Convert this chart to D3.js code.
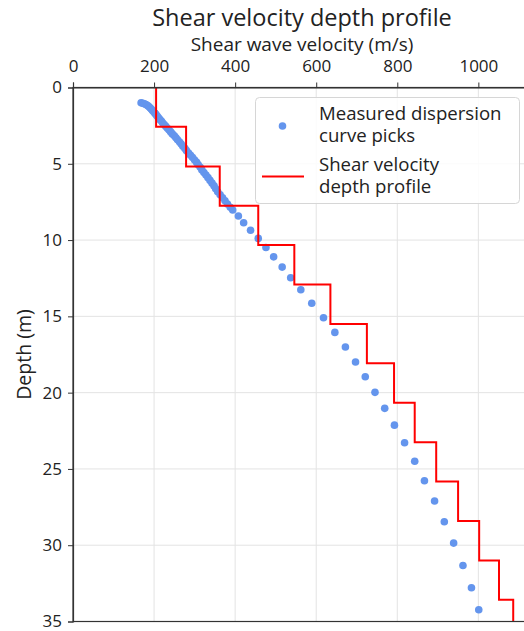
<!DOCTYPE html>
<html>
<head>
<meta charset="utf-8">
<script src="https://cdn.jsdelivr.net/npm/d3@7"></script>
<style>
html,body{margin:0;padding:0;background:#fff;}
svg{display:block;}
text{font-family:"Open Sans","Noto Sans",sans-serif;fill:#222;}
</style>
</head>
<body>
<div id="chart"></div>
<script>
// Measured dispersion curve picks: velocity (m/s) and depth (m)
const pickVelocity = [168,172,176,180,184,187,190,193,196,199,202,205,208,211,214,218,221,225,229,233,237,241,245,250,254,258,263,267,271,276,280,285,290,295,300,305,309,314,318,323,328,333,338,343,348,352,357,363,369,375,381,388,
394,408,421,438,457,476,495,516,537,562,589,618,646,672,697,721,745,769,793,818,843,867,892,916,939,962,983,1001];
const pickDepth = [1.00,1.03,1.07,1.12,1.18,1.25,1.33,1.41,1.50,1.59,1.68,1.78,1.88,1.98,2.09,2.20,2.31,2.43,2.55,2.67,2.79,2.91,3.04,3.17,3.30,3.43,3.57,3.71,3.85,3.99,4.14,4.29,4.44,4.59,4.75,4.91,5.07,5.23,5.40,5.57,5.74,5.91,6.09,6.27,6.45,6.64,6.83,7.03,7.23,7.43,7.64,7.85,
8.03,8.42,8.86,9.36,9.89,10.49,11.10,11.77,12.47,13.26,14.14,15.09,16.05,17.01,17.99,18.96,19.98,21.03,22.13,23.28,24.50,25.77,27.10,28.46,29.86,31.33,32.79,34.23];

// Layered shear velocity profile: layer top depths and velocities
const layerTop = [0,2.58,5.17,7.75,10.33,12.92,15.50,18.08,20.67,23.25,25.83,28.42,31.00,33.58];
const layerVs = [205,279,362,457,546,635,725,792,843,896,950,1002,1051,1086];
const profileBottom = 40;

const xTicks = [0,200,400,600,800,1000];
const yTicks = [0,5,10,15,20,25,30,35];

const W = 524, H = 631;
const m = {left:73, top:87.5, right:-3, bottom:9.5};
const FONT = '"Open Sans","Noto Sans",sans-serif';

const svg = d3.select("#chart").append("svg").attr("width",W).attr("height",H);

const x = d3.scaleLinear().domain([0,1120]).range([m.left, W - m.right]);
const y = d3.scaleLinear().domain([0,35]).range([m.top, H - m.bottom]);

svg.append("defs").append("clipPath").attr("id","clip").append("rect")
  .attr("x", m.left).attr("y", m.top)
  .attr("width", W - m.right - m.left).attr("height", H - m.bottom - m.top);

// grid
const grid = svg.append("g");
grid.selectAll("line.vx").data(xTicks.filter(d=>d>0)).join("line")
  .attr("x1",d=>x(d)).attr("x2",d=>x(d)).attr("y1",y(0)).attr("y2",y(35))
  .attr("stroke","#e3e3e3").attr("stroke-width",1);
grid.selectAll("line.hy").data(yTicks.filter(d=>d>0 && d<35)).join("line")
  .attr("x1",x(0)).attr("x2",W - m.right).attr("y1",d=>y(d)).attr("y2",d=>y(d))
  .attr("stroke","#e3e3e3").attr("stroke-width",1);

const plot = svg.append("g").attr("clip-path","url(#clip)");

// points
plot.selectAll("circle").data(pickVelocity.map((v,i)=>({v, d:pickDepth[i]}))).join("circle")
  .attr("cx",d=>x(d.v)).attr("cy",d=>y(d.d)).attr("r",3.8)
  .attr("fill","#6495ED");

// step profile
const stepPts = [];
layerVs.forEach((v,i)=>{
  const top = layerTop[i];
  const bot = i < layerTop.length-1 ? layerTop[i+1] : profileBottom;
  stepPts.push([v, top]); stepPts.push([v, bot]);
});
plot.append("path").datum(stepPts)
  .attr("d", d3.line().x(p=>x(p[0])).y(p=>y(p[1])))
  .attr("fill","none").attr("stroke","#ff0000").attr("stroke-width",2);

// frame
svg.append("rect").attr("x",x(0)).attr("y",y(0))
  .attr("width",(W - m.right) - x(0)).attr("height",y(35)-y(0))
  .attr("fill","none").attr("stroke","#333").attr("stroke-width",1.2);

// axes
const xAxis = d3.axisTop(x).tickValues(xTicks).tickFormat(d3.format("d")).tickSize(5).tickPadding(11);
const gx = svg.append("g").attr("transform",`translate(0,${y(0)})`).call(xAxis);
const yAxis = d3.axisLeft(y).tickValues(yTicks).tickFormat(d3.format("d")).tickSize(5).tickPadding(6);
const gy = svg.append("g").attr("transform",`translate(${x(0)},0)`).call(yAxis);
[gx,gy].forEach(g=>{
  g.select(".domain").attr("stroke","#333").attr("stroke-width",1.2);
  g.selectAll(".tick line").attr("stroke","#333");
  g.selectAll(".tick text").attr("font-size",17).attr("fill","#222")
    .attr("font-family",FONT);
});
gx.selectAll(".tick text").attr("dy","0");

// titles
svg.append("text").attr("x",302).attr("y",26).attr("text-anchor","middle")
  .attr("font-size",23.5).text("Shear velocity depth profile");
svg.append("text").attr("x",302).attr("y",50.5).attr("text-anchor","middle")
  .attr("font-size",19).text("Shear wave velocity (m/s)");
svg.append("text").attr("transform",`translate(31,${(y(0)+y(35))/2}) rotate(-90)`)
  .attr("text-anchor","middle").attr("font-size",19.5).text("Depth (m)");

// legend
const lg = svg.append("g");
lg.append("rect").attr("x",255.5).attr("y",97.5).attr("width",264).attr("height",106).attr("rx",4)
  .attr("fill","rgba(255,255,255,0.85)").attr("stroke","#d6d6d6").attr("stroke-width",1);
lg.append("circle").attr("cx",282.5).attr("cy",126).attr("r",3.8).attr("fill","#6495ED");
lg.append("line").attr("x1",262).attr("x2",304).attr("y1",176.5).attr("y2",176.5)
  .attr("stroke","#ff0000").attr("stroke-width",2);
const legTexts = [["Measured dispersion",120],["curve picks",142],["Shear velocity",171],["depth profile",193]];
lg.selectAll("text.lt").data(legTexts).join("text")
  .attr("x",319).attr("y",d=>d[1]).attr("font-size",18.6).text(d=>d[0]);
</script>
</body>
</html>
